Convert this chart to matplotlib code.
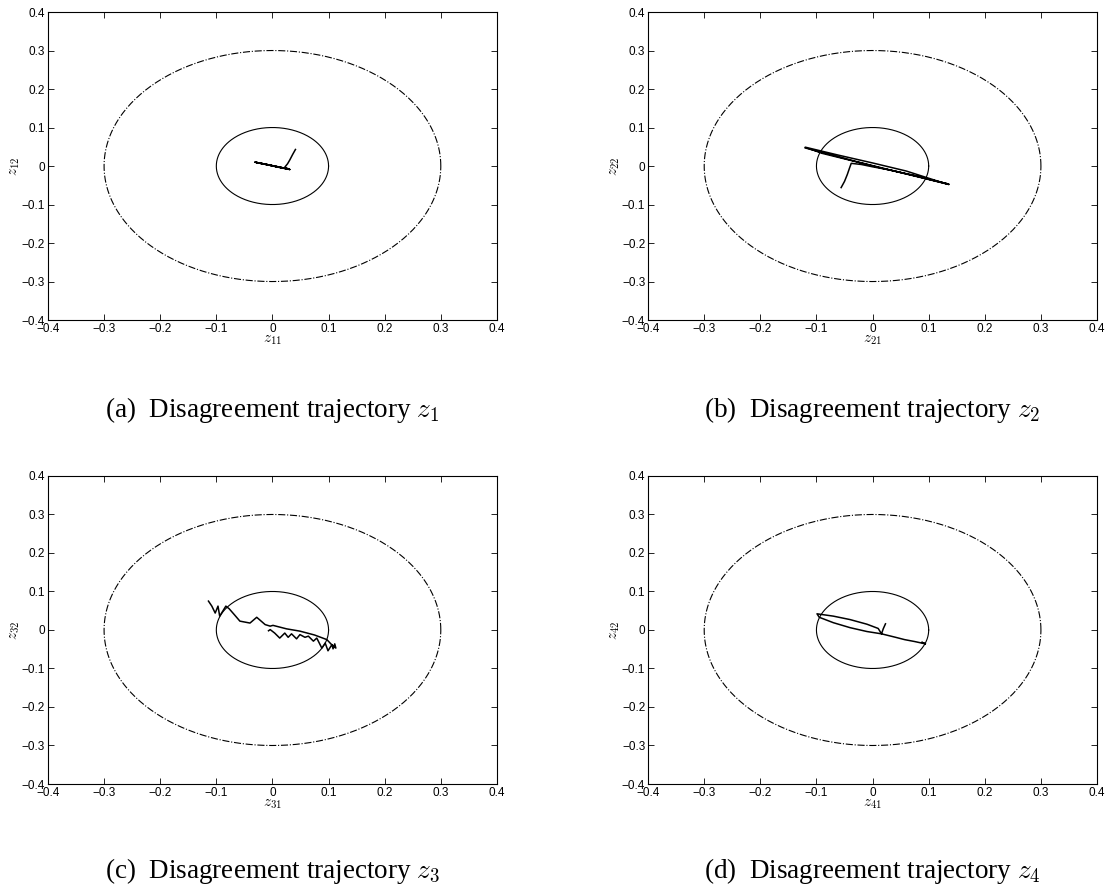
import numpy as np
import matplotlib
matplotlib.use("Agg")
import matplotlib.pyplot as plt

plt.rcParams['font.family'] = ['Liberation Sans', 'DejaVu Sans']
plt.rcParams['mathtext.fontset'] = 'cm'

# trajectory data (x, y) for each agent
z1_x = [0.041, 0.036, 0.031, 0.027, 0.022, 0.028, 0.031, 0.010, -0.010, -0.031, -0.020, 0.000, 0.020, 0.031,
        0.015, -0.005, -0.028, -0.010, 0.010, 0.029, 0.005, -0.025, -0.031]
z1_y = [0.043, 0.030, 0.016, 0.006, -0.003, -0.007, -0.009, -0.003, 0.004, 0.010, 0.007, 0.001, -0.005, -0.009,
        -0.004, 0.002, 0.009, 0.004, -0.002, -0.008, -0.001, 0.008, 0.010]

z2_x = [-0.056, -0.050, -0.045, -0.041, -0.038, -0.020, 0.000, 0.030, 0.070, 0.110, 0.136, 0.080, 0.020,
        -0.040, -0.090, -0.120, -0.060, 0.000, 0.060, 0.120, 0.136, 0.050, -0.030, -0.110, -0.120]
z2_y = [-0.056, -0.040, -0.022, -0.005, 0.007, 0.004, -0.002, -0.010, -0.023, -0.038, -0.047, -0.027, -0.007,
        0.015, 0.033, 0.049, 0.028, 0.008, -0.013, -0.041, -0.048, -0.017, 0.012, 0.043, 0.047]

z3_x = [-0.114, -0.108, -0.102, -0.097, -0.094, -0.083, -0.077, -0.068, -0.058, -0.040, -0.028, -0.013,
        -0.004, 0.001, 0.025, 0.049, 0.075, 0.097, 0.108, 0.113, 0.111, 0.108, 0.106, 0.099, 0.094, 0.088,
        0.079, 0.073, 0.064, 0.058, 0.049, 0.043, 0.034, 0.028, 0.022, 0.013, 0.004, -0.004, -0.007]
z3_y = [0.075, 0.062, 0.044, 0.062, 0.036, 0.062, 0.055, 0.040, 0.023, 0.018, 0.033, 0.014,
        0.010, 0.012, 0.003, -0.003, -0.013, -0.025, -0.042, -0.047, -0.036, -0.049, -0.038, -0.054, -0.034,
        -0.047, -0.021, -0.029, -0.016, -0.019, -0.012, -0.023, -0.010, -0.019, -0.008, -0.021, -0.008, 0.001,
        -0.002]

z4_x = [0.023, 0.019, 0.016, -0.010, -0.040, -0.070, -0.095, -0.099, -0.070, -0.040, -0.010, 0.010, 0.016,
        0.041, 0.057, 0.075, 0.094, 0.088, 0.094]
z4_y = [0.016, 0.003, -0.010, -0.004, 0.006, 0.019, 0.033, 0.042, 0.036, 0.027, 0.015, 0.004, -0.010,
        -0.019, -0.025, -0.030, -0.036, -0.032, -0.036]

trajs = [(z1_x, z1_y), (z2_x, z2_y), (z3_x, z3_y), (z4_x, z4_y)]
letters = ['a', 'b', 'c', 'd']
ticks = [-0.4, -0.3, -0.2, -0.1, 0, 0.1, 0.2, 0.3, 0.4]
tick_labels = ['\u22120.4', '\u22120.3', '\u22120.2', '\u22120.1', '0', '0.1', '0.2', '0.3', '0.4']
r_inner = 0.1
r_outer = 0.3

fig = plt.figure(figsize=(11.05, 8.9), dpi=100)
lefts = [0.0434, 0.5865, 0.0434, 0.5865]
bottoms = [0.6404, 0.6404, 0.1191, 0.1191]

t = np.linspace(0, 2 * np.pi, 400)
for i in range(4):
    ax = fig.add_axes([lefts[i], bottoms[i], 0.4063, 0.3461])
    ax.plot(r_outer * np.cos(t), r_outer * np.sin(t), color='k', lw=0.8, linestyle='-.')
    ax.plot(r_inner * np.cos(t), r_inner * np.sin(t), color='k', lw=0.8)
    ax.plot(trajs[i][0], trajs[i][1], color='k', lw=1.1)
    ax.set_xlim(-0.4, 0.4)
    ax.set_ylim(-0.4, 0.4)
    ax.set_xticks(ticks)
    ax.set_yticks(ticks)
    ax.set_xticklabels(tick_labels)
    ax.set_yticklabels(tick_labels)
    ax.tick_params(direction='in', top=True, right=True, labelsize=8.5, length=4, width=0.6, pad=2)
    for s in ax.spines.values():
        s.set_linewidth(0.8)
    ax.set_xlabel('$z_{%d1}$' % (i + 1), fontsize=11, labelpad=-1)
    ax.set_ylabel('$z_{%d2}$' % (i + 1), fontsize=11, labelpad=0)
    cy = 0.532 if i < 2 else 0.013
    fig.text(lefts[i] + 0.2032, cy,
             '(%s)  Disagreement trajectory $z_{%d}$' % (letters[i], i + 1),
             ha='center', fontsize=19.5, family='Liberation Serif')

fig.savefig('out.png', dpi=100)
